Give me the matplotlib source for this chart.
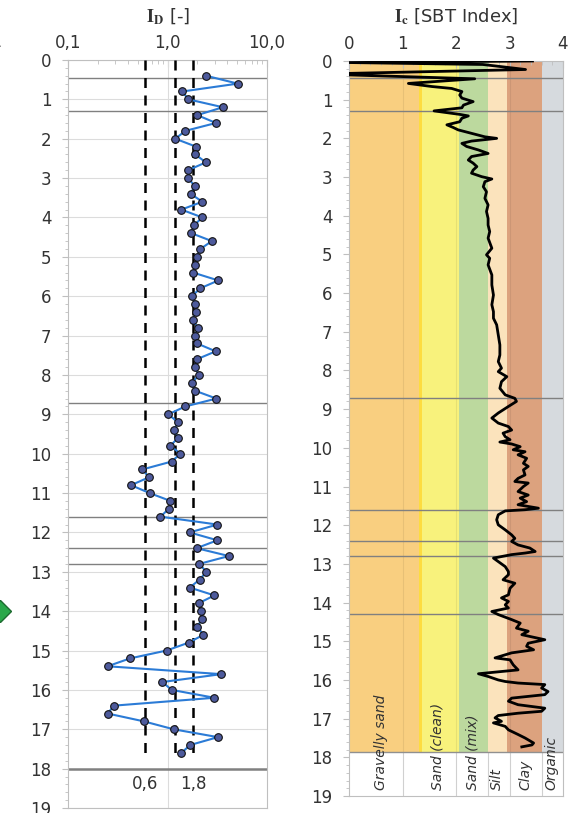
import numpy as np
import matplotlib.pyplot as plt
from matplotlib.lines import Line2D
from matplotlib.ticker import MultipleLocator, FixedLocator, NullFormatter, LogLocator

plt.rcParams['font.family'] = 'DejaVu Sans'
plt.rcParams['mathtext.fontset'] = 'stix'

# --- I_D data (depth in m, I_D [-]) ---
id_depth = [0.4, 0.6, 0.8, 1.0, 1.2, 1.4, 1.6, 1.8, 2.0, 2.2, 2.4, 2.6, 2.8, 3.0,
            3.2, 3.4, 3.6, 3.8, 4.0, 4.2, 4.4, 4.6, 4.8, 5.0, 5.2, 5.4, 5.6, 5.8,
            6.0, 6.2, 6.4, 6.6, 6.8, 7.0, 7.2, 7.4, 7.6, 7.8, 8.0, 8.2, 8.4, 8.6,
            8.8, 9.0, 9.2, 9.4, 9.6, 9.8, 10.0, 10.2, 10.4, 10.6, 10.8, 11.0, 11.2,
            11.4, 11.6, 11.8, 12.0, 12.2, 12.4, 12.6, 12.8, 13.0, 13.2, 13.4, 13.6,
            13.8, 14.0, 14.2, 14.4, 14.6, 14.8, 15.0, 15.2, 15.4, 15.6, 15.8, 16.0,
            16.2, 16.4, 16.6, 16.8, 17.0, 17.2, 17.4, 17.6]
id_vals = [2.44, 5.08, 1.41, 1.62, 3.6, 1.99, 3.07, 1.51, 1.2, 1.93, 1.9, 2.43, 1.61, 1.62,
           1.87, 1.71, 2.24, 1.38, 2.24, 1.84, 1.74, 2.79, 2.14, 1.96, 1.91, 1.81, 3.24, 2.13,
           1.76, 1.9, 1.93, 1.79, 2.02, 1.89, 1.98, 3.05, 1.98, 1.87, 2.08, 1.76, 1.89, 3.1,
           1.51, 1.02, 1.27, 1.17, 1.27, 1.07, 1.35, 1.1, 0.56, 0.65, 0.43, 0.66, 1.07,
           1.03, 0.85, 3.17, 1.67, 3.17, 1.96, 4.14, 2.08, 2.46, 2.1, 1.67, 2.96,
           2.05, 2.18, 2.21, 2.0, 2.3, 1.63, 0.98, 0.42, 0.25, 3.47, 0.89, 1.1,
           2.96, 0.29, 0.25, 0.58, 1.15, 3.21, 1.69, 1.38]
id_limits = [0.6, 1.2, 1.8]
id_limit_labels = {0.6: '0,6', 1.8: '1,8'}

# --- I_c data ---
ic_depth = [0.00, 0.04, 0.09, 0.22, 0.32, 0.36, 0.46, 0.58, 0.66, 0.71, 0.79, 0.88, 0.96,
            1.05, 1.14, 1.21, 1.29, 1.38, 1.42, 1.48, 1.57, 1.65, 1.72, 1.78, 1.87, 1.96,
            2.00, 2.07, 2.13, 2.21, 2.30, 2.39, 2.47, 2.56, 2.64, 2.73, 2.82, 2.90, 2.99,
            3.05, 3.12, 3.25, 3.38, 3.55, 3.72, 3.89, 4.07, 4.24, 4.41, 4.58, 4.84, 5.01,
            5.10, 5.27, 5.53, 5.79, 6.05, 6.30, 6.48, 6.65, 6.82, 7.08, 7.34, 7.60, 7.77,
            7.94, 8.03, 8.16, 8.29, 8.46, 8.63, 8.72, 8.80, 8.93, 9.10, 9.23, 9.36, 9.45,
            9.54, 9.62, 9.71, 9.79, 9.85, 9.90, 9.97, 10.05, 10.10, 10.18, 10.27, 10.40,
            10.48, 10.57, 10.70, 10.79, 10.87, 10.91, 11.00, 11.13, 11.22, 11.30, 11.39,
            11.47, 11.56, 11.60, 11.63, 11.73, 11.86, 11.99, 12.12, 12.25, 12.34, 12.42,
            12.51, 12.59, 12.68, 12.72, 12.76, 12.85, 12.94, 13.07, 13.20, 13.28, 13.41,
            13.50, 13.63, 13.80, 13.88, 13.97, 14.06, 14.14, 14.23, 14.31, 14.44, 14.53,
            14.66, 14.74, 14.83, 14.96, 15.05, 15.13, 15.22, 15.30, 15.43, 15.48, 15.61,
            15.74, 15.84, 15.91, 16.00, 16.04, 16.08, 16.12, 16.21, 16.30, 16.38, 16.47,
            16.55, 16.64, 16.73, 16.81, 16.86, 16.92, 16.98, 17.07, 17.11, 17.20, 17.29,
            17.41, 17.50, 17.63, 17.68, 17.73]
ic_vals = [3.43, 0.0, 2.5, 3.3, 0.0, 0.0, 2.35, 1.11, 1.55, 1.92, 2.11, 2.07, 2.11,
           2.32, 2.14, 2.11, 1.59, 2.07, 2.23, 2.11, 2.07, 1.83, 1.95, 2.04, 2.29, 2.54,
           2.76, 2.29, 2.11, 2.2, 2.42, 2.6, 2.29, 2.23, 2.32, 2.39, 2.32, 2.29, 2.48,
           2.67, 2.54, 2.51, 2.57, 2.54, 2.6, 2.57, 2.6, 2.6, 2.63, 2.6, 2.67, 2.57,
           2.63, 2.6, 2.67, 2.67, 2.7, 2.67, 2.7, 2.7, 2.76, 2.79, 2.82, 2.82, 2.79,
           2.85, 2.79, 2.95, 2.85, 2.82, 2.92, 3.1, 3.13, 2.98, 2.79, 2.67, 2.79, 2.98,
           3.04, 2.88, 2.92, 3.01, 2.82, 3.04, 3.2, 3.07, 3.29, 3.16, 3.32, 3.26,
           3.35, 3.26, 3.29, 3.16, 3.1, 3.35, 3.26, 3.16, 3.35, 3.2, 3.32,
           3.16, 3.54, 3.29, 2.92, 2.79, 2.76, 2.79, 2.92, 3.04, 3.1, 3.04,
           3.16, 3.38, 3.48, 3.29, 3.04, 2.7, 2.79, 2.92, 2.98, 2.98, 2.88,
           3.1, 3.01, 2.98, 2.85, 2.98, 2.92, 2.98, 2.67, 2.79, 3.04, 3.2,
           3.13, 3.35, 3.23, 3.66, 3.35, 3.32, 3.45, 3.04, 2.73, 3.01, 3.07,
           3.16, 2.42, 2.6, 2.79, 2.92, 3.16, 3.66, 3.6, 3.72, 3.66, 3.04,
           2.98, 3.16, 3.66, 3.6, 3.16, 2.79, 2.73, 2.85, 2.7, 2.92, 2.98,
           3.16, 3.29, 3.45, 3.42, 3.23]

layers = [0.45, 1.3, 8.7, 11.6, 12.4, 12.8]
layers_ic = [0.45, 1.3, 8.7, 11.6, 12.4, 12.8, 14.3]

sbt_names = ['Gravelly sand', 'Sand (clean)', 'Sand (mix)', 'Silt', 'Clay', 'Organic']
sbt_edges = [0, 1.31, 2.05, 2.6, 2.95, 3.6, 4.0]
sbt_colors = ['#F9CF80', '#F8F27C', '#BCD99E', '#FBE3BC', '#DCA27E', '#D6DADE']
sbt_label_x = [0.6, 1.66, 2.3, 2.77, 3.29, 3.78]
sbt_bottom = 17.85

fig = plt.figure(figsize=(5.71, 8.13), dpi=100)
W, H = 571, 813
ax1 = fig.add_axes([68 / W, 1 - 808 / H, 199 / W, 748 / H])
ax2 = fig.add_axes([349 / W, 1 - 796 / H, 214 / W, 735 / H])

grey = '#BFBFBF'
txt = '#333333'

# left panel: I_D
ax1.set_xscale('log')
ax1.set_xlim(0.1, 10)
ax1.set_ylim(19, 0)
ax1.xaxis.tick_top()
ax1.xaxis.set_major_locator(FixedLocator([0.1, 1, 10]))
ax1.set_xticklabels(['0,1', '1,0', '10,0'])
ax1.xaxis.set_minor_locator(LogLocator(base=10, subs=np.arange(2, 10)))
ax1.xaxis.set_minor_formatter(NullFormatter())
ax1.tick_params(axis='x', which='both', direction='in', colors=grey, labelcolor=txt,
                labelsize=12, pad=6)
ax1.tick_params(axis='x', which='major', length=5)
ax1.tick_params(axis='x', which='minor', length=3)
ax1.yaxis.set_major_locator(MultipleLocator(1))
ax1.yaxis.set_minor_locator(MultipleLocator(0.2))
ax1.tick_params(axis='y', which='both', colors=grey, labelcolor=txt, labelsize=12)
ax1.tick_params(axis='y', which='major', length=4, pad=8)
ax1.tick_params(axis='y', which='minor', length=2)
for s in ax1.spines.values():
    s.set_color(grey)
ax1.yaxis.grid(True, color='#DCDCDC', lw=0.8)
ax1.axvline(1, color='#DCDCDC', lw=0.8)
for d in layers:
    ax1.axhline(d, color='#808080', lw=1)
ax1.axhline(18, color='#808080', lw=1.8)
ax1.vlines(id_limits, 0, 17.65, colors='black', linestyles=(0, (4, 3)), lw=1.8, zorder=3)
for v, lab in id_limit_labels.items():
    ax1.text(v, 18.4, lab, ha='center', va='center', fontsize=12, color=txt)
ax1.plot(id_vals, id_depth, color='#2B7BD6', lw=1.5, marker='o', ms=5.5,
         mfc='#4D5A9C', mec='#111111', mew=0.8, zorder=5, clip_on=False)

# right panel: I_c with SBT zones
ax2.set_xlim(0, 4)
ax2.set_ylim(19, 0)
for lo, hi, c in zip(sbt_edges[:-1], sbt_edges[1:], sbt_colors):
    ax2.fill_betweenx([0, sbt_bottom], lo, hi, color=c, lw=0, zorder=0)
ax2.fill_betweenx([0, sbt_bottom], 1.31, 1.37, color='#FDDC40', lw=0, zorder=0)
ax2.vlines([1, 2, 3], 0, sbt_bottom, colors='k', alpha=0.07, lw=0.8, zorder=1)
ax2.vlines([1, 2, 2.6, 3, 3.6], sbt_bottom, 19, colors='#D0D0D0', lw=0.8)
ax2.axhline(sbt_bottom, color='#909090', lw=1)
for d in layers_ic:
    ax2.axhline(d, color='#808080', lw=1, zorder=2)
ax2.plot(ic_vals, ic_depth, color='black', lw=2, zorder=4)
for name, x in zip(sbt_names, sbt_label_x):
    ax2.text(x, 18.85, name, rotation=90, ha='center', va='bottom', fontsize=10,
             style='italic', color=txt, zorder=5)
ax2.xaxis.tick_top()
ax2.xaxis.set_major_locator(MultipleLocator(1))
ax2.xaxis.set_minor_locator(MultipleLocator(0.2))
ax2.tick_params(axis='x', which='both', direction='in', colors=grey, labelcolor=txt,
                labelsize=12, pad=6)
ax2.tick_params(axis='x', which='major', length=5)
ax2.tick_params(axis='x', which='minor', length=3)
ax2.yaxis.set_major_locator(MultipleLocator(1))
ax2.yaxis.set_minor_locator(MultipleLocator(0.2))
ax2.tick_params(axis='y', which='both', colors=grey, labelcolor=txt, labelsize=12)
ax2.tick_params(axis='y', which='major', length=4, pad=8)
ax2.tick_params(axis='y', which='minor', length=2)
for s in ax2.spines.values():
    s.set_color(grey)

fig.text(168 / W, 1 - 17 / H, r'$\mathbf{I_D}$ [-]', ha='center', va='center',
         fontsize=13, color=txt)
fig.text(456 / W, 1 - 17 / H, r'$\mathbf{I_c}$ [SBT Index]', ha='center', va='center',
         fontsize=13, color=txt)
fig.text(3 / W, 1 - 42 / H, '0,01', ha='right', va='center', fontsize=12, color=txt)
fig.add_artist(Line2D([0], [1 - 611 / H], marker='D', ms=11, color='#2AA84A',
                      mec='#1D6B30', transform=fig.transFigure))

fig.savefig('out.png', dpi=100)
